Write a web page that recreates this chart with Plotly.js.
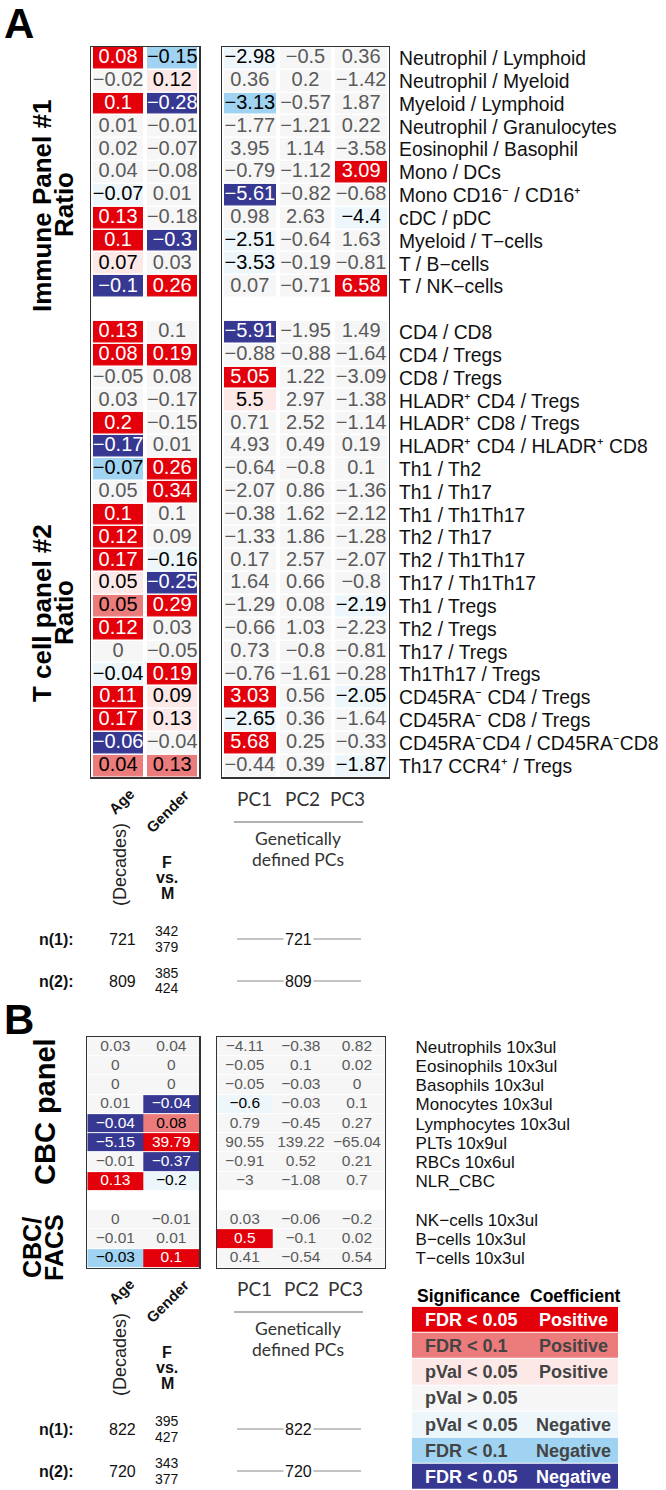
<!DOCTYPE html>
<html><head><meta charset="utf-8">
<script src="https://cdn.plot.ly/plotly-3.0.1.min.js"></script>
<style>html,body{margin:0;padding:0;background:#fff}#chart{width:666px;height:1490px}</style>
</head><body><div id="chart"></div>
<script>
// ---------------- DATA ----------------
// columns: Age, Gender, PC1, PC2, PC3
// significance codes: 3 FDR<0.05 pos, 2 FDR<0.1 pos, 1 pVal<0.05 pos, 0 ns, -1 pVal<0.05 neg, -2 FDR<0.1 neg, -3 FDR<0.05 neg
const immuneLabels = ["Neutrophil / Lymphoid","Neutrophil / Myeloid","Myeloid / Lymphoid","Neutrophil / Granulocytes","Eosinophil / Basophil","Mono / DCs","Mono CD16⁻ / CD16⁺","cDC / pDC","Myeloid / T−cells","T / B−cells","T / NK−cells"];
const immuneValues = [
  [0.08,-0.15,-2.98,-0.5,0.36],
  [-0.02,0.12,0.36,0.2,-1.42],
  [0.1,-0.28,-3.13,-0.57,1.87],
  [0.01,-0.01,-1.77,-1.21,0.22],
  [0.02,-0.07,3.95,1.14,-3.58],
  [0.04,-0.08,-0.79,-1.12,3.09],
  [-0.07,0.01,-5.61,-0.82,-0.68],
  [0.13,-0.18,0.98,2.63,-4.4],
  [0.1,-0.3,-2.51,-0.64,1.63],
  [0.07,0.03,-3.53,-0.19,-0.81],
  [-0.1,0.26,0.07,-0.71,6.58]
];
const immuneSig = [
  [3,-2,-1,0,0],[0,1,0,0,0],[3,-3,-2,0,0],[0,0,0,0,0],[0,0,0,0,0],[0,0,0,0,3],
  [-1,0,-3,0,0],[3,0,0,0,-1],[3,-3,-1,0,0],[1,0,-1,0,0],[-3,3,0,0,3]
];
const tcellLabels = ["CD4 / CD8","CD4 / Tregs","CD8 / Tregs","HLADR⁺ CD4 / Tregs","HLADR⁺ CD8 / Tregs","HLADR⁺ CD4 / HLADR⁺ CD8","Th1 / Th2","Th1 / Th17","Th1 / Th1Th17","Th2 / Th17","Th2 / Th1Th17","Th17 / Th1Th17","Th1 / Tregs","Th2 / Tregs","Th17 / Tregs","Th1Th17 / Tregs","CD45RA⁻ CD4 / Tregs","CD45RA⁻ CD8 / Tregs","CD45RA⁻CD4 / CD45RA⁻CD8","Th17 CCR4⁺ / Tregs"];
const tcellValues = [
  [0.13,0.1,-5.91,-1.95,1.49],
  [0.08,0.19,-0.88,-0.88,-1.64],
  [-0.05,0.08,5.05,1.22,-3.09],
  [0.03,-0.17,5.5,2.97,-1.38],
  [0.2,-0.15,0.71,2.52,-1.14],
  [-0.17,0.01,4.93,0.49,0.19],
  [-0.07,0.26,-0.64,-0.8,0.1],
  [0.05,0.34,-2.07,0.86,-1.36],
  [0.1,0.1,-0.38,1.62,-2.12],
  [0.12,0.09,-1.33,1.86,-1.28],
  [0.17,-0.16,0.17,2.57,-2.07],
  [0.05,-0.25,1.64,0.66,-0.8],
  [0.05,0.29,-1.29,0.08,-2.19],
  [0.12,0.03,-0.66,1.03,-2.23],
  [0,-0.05,0.73,-0.8,-0.81],
  [-0.04,0.19,-0.76,-1.61,-0.28],
  [0.11,0.09,3.03,0.56,-2.05],
  [0.17,0.13,-2.65,0.36,-1.64],
  [-0.06,-0.04,5.68,0.25,-0.33],
  [0.04,0.13,-0.44,0.39,-1.87]
];
const tcellSig = [
  [3,0,-3,0,0],[3,3,0,0,0],[0,0,3,0,0],[0,0,1,0,0],[3,0,0,0,0],[-3,0,0,0,0],
  [-2,3,0,0,0],[0,3,0,0,0],[3,0,0,0,0],[3,0,0,0,0],[3,-1,0,0,0],[1,-3,0,0,0],
  [2,3,0,0,-1],[3,0,0,0,0],[0,0,0,0,0],[-1,3,0,0,0],[3,1,3,0,-1],[3,1,-1,0,0],
  [-3,0,3,0,0],[2,2,0,0,-1]
];
const cbcLabels = ["Neutrophils 10x3ul","Eosinophils 10x3ul","Basophils 10x3ul","Monocytes 10x3ul","Lymphocytes 10x3ul","PLTs 10x9ul","RBCs 10x6ul","NLR_CBC"];
const cbcValues = [
  [0.03,0.04,-4.11,-0.38,0.82],
  [0,0,-0.05,0.1,0.02],
  [0,0,-0.05,-0.03,0],
  [0.01,-0.04,-0.6,-0.03,0.1],
  [-0.04,0.08,0.79,-0.45,0.27],
  [-5.15,39.79,90.55,139.22,-65.04],
  [-0.01,-0.37,-0.91,0.52,0.21],
  [0.13,-0.2,-3,-1.08,0.7]
];
const cbcSig = [
  [0,0,0,0,0],[0,0,0,0,0],[0,0,0,0,0],[0,-3,-1,0,0],
  [-3,2,0,0,0],[-3,3,0,0,0],[0,-3,0,0,0],[3,-1,0,0,0]
];
const facsLabels = ["NK−cells 10x3ul","B−cells 10x3ul","T−cells 10x3ul"];
const facsValues = [
  [0,-0.01,0.03,-0.06,-0.2],
  [-0.01,0.01,0.5,-0.1,0.02],
  [-0.03,0.1,0.41,-0.54,0.54]
];
const facsSig = [[0,0,0,0,0],[0,0,3,0,0],[-2,3,0,0,0]];

const pcLabels = ["PC1","PC2","PC3"];
const nRowLabels = ["n(1):","n(2):"];
const nAgeA = [721, 809], nFemaleA = [342, 385], nMaleA = [379, 424], nPcA = [721, 809];
const nAgeB = [822, 720], nFemaleB = [395, 343], nMaleB = [427, 377], nPcB = [822, 720];

const legendCodes = [3,2,1,0,-1,-2,-3];
const legendSig = ["FDR < 0.05","FDR < 0.1","pVal < 0.05","pVal > 0.05","pVal < 0.05","FDR < 0.1","FDR < 0.05"];
const legendCoef = ["Positive","Positive","Positive","","Negative","Negative","Negative"];

// ---------------- HELPERS ----------------
const W = 666, H = 1490;
const px = x => x / W, py = y => 1 - y / H;
const FONT = "Liberation Sans, Arial, sans-serif";
const FONT2 = "Lato, Open Sans, sans-serif";
const palette = ["#363892","#9fd3f1","#ecf6fb","#f6f6f6","#fde8e8","#ec7b7c","#e3000b"];
const colorscale = palette.map((c, i) => [i / 6, c]);
const fmt = v => (v < 0 ? "−" : "") + String(Math.abs(v));
const txtColor = s => Math.abs(s) === 3 ? "#ffffff" : (s === 0 ? "#5a5a5a" : "#000000");

function buildPanel(groups, axL, axR, fontSize, xgap, ygap) {
  const rows = [];
  groups.forEach((g, gi) => {
    if (gi > 0) rows.push(null);
    g.labels.forEach((l, i) => rows.push({label: l, v: g.values[i], s: g.sig[i]}));
  });
  const yIdx = rows.map((_, i) => i);
  const zL = rows.map(r => r ? [r.s[0], r.s[1]] : [null, null]);
  const zR = rows.map(r => r ? r.s.slice(2) : [null, null, null]);
  const traces = [];
  const common = {type: "heatmap", colorscale, zmin: -3, zmax: 3, showscale: false, hoverinfo: "skip", xgap, ygap};
  traces.push(Object.assign({}, common, {x: [0, 1], y: yIdx, z: zL, xaxis: axL[0], yaxis: axL[1]}));
  traces.push(Object.assign({}, common, {x: [0, 1, 2], y: yIdx, z: zR, xaxis: axR[0], yaxis: axR[1]}));
  const tl = {x: [], y: [], text: [], c: []}, tr = {x: [], y: [], text: [], c: []};
  const tickvals = [], ticktext = [];
  rows.forEach((r, i) => {
    if (!r) return;
    tickvals.push(i); ticktext.push(r.label);
    r.v.forEach((v, j) => {
      const t = j < 2 ? tl : tr;
      t.x.push(j < 2 ? j : j - 2); t.y.push(i); t.text.push(fmt(v)); t.c.push(txtColor(r.s[j]));
    });
  });
  [[tl, axL], [tr, axR]].forEach(([t, ax]) => {
    traces.push({type: "scatter", mode: "text", x: t.x, y: t.y, text: t.text,
      textfont: {family: FONT, size: fontSize, color: t.c}, textposition: "middle center",
      xaxis: ax[0], yaxis: ax[1], hoverinfo: "skip", cliponaxis: false, showlegend: false});
  });
  return {traces, tickvals, ticktext, n: rows.length};
}

const A = buildPanel([{labels: immuneLabels, values: immuneValues, sig: immuneSig},
                      {labels: tcellLabels, values: tcellValues, sig: tcellSig}], ["x", "y"], ["x2", "y2"], 20, 4, 1.5);
const B = buildPanel([{labels: cbcLabels, values: cbcValues, sig: cbcSig},
                      {labels: facsLabels, values: facsValues, sig: facsSig}], ["x3", "y3"], ["x4", "y4"], 15.5, 0, 1);

const legendTrace = {type: "heatmap", x: [0], y: legendCodes.map((_, i) => i), z: legendCodes.map(c => [c]),
  colorscale, zmin: -3, zmax: 3, showscale: false, hoverinfo: "skip", ygap: 1, xaxis: "x5", yaxis: "y5"};

const traces = [...A.traces, ...B.traces, legendTrace];

// ---------------- AXES ----------------
const boxAxis = (domain, range, anchor) => ({domain, range, anchor, showgrid: false, zeroline: false,
  showticklabels: false, ticks: "", showline: true, mirror: true, linecolor: "#333", linewidth: 1.2, fixedrange: true});
const yA = [py(777.4), py(46.9)], yB = [py(1267.9), py(1037.1)];
const layout = {
  width: W, height: H, margin: {l: 0, r: 0, t: 0, b: 0},
  paper_bgcolor: "#fff", plot_bgcolor: "rgba(0,0,0,0)", showlegend: false,
  font: {family: FONT, color: "#000"},
  xaxis: boxAxis([px(91), px(199.3)], [-0.5, 1.5], "y"),
  yaxis: boxAxis(yA, [A.n - 0.5, -0.5], "x"),
  xaxis2: boxAxis([px(222), px(389)], [-0.5, 2.5], "y2"),
  yaxis2: Object.assign(boxAxis(yA, [A.n - 0.5, -0.5], "x2"), {side: "right", showticklabels: true,
    tickmode: "array", tickvals: A.tickvals, ticktext: A.ticktext, ticklabelstandoff: 5,
    tickfont: {family: FONT, size: 19.3, color: "#111"}}),
  xaxis3: boxAxis([px(87.3), px(199.3)], [-0.5, 1.5], "y3"),
  yaxis3: boxAxis(yB, [B.n - 0.5, -0.5], "x3"),
  xaxis4: boxAxis([px(216.7), px(385)], [-0.5, 2.5], "y4"),
  yaxis4: Object.assign(boxAxis(yB, [B.n - 0.5, -0.5], "x4"), {side: "right", showticklabels: true,
    tickmode: "array", tickvals: B.tickvals, ticktext: B.ticktext, ticklabelstandoff: 26,
    tickfont: {family: FONT, size: 17, color: "#111"}}),
  xaxis5: {domain: [px(412), px(618)], range: [-0.5, 0.5], anchor: "y5", visible: false, fixedrange: true},
  yaxis5: {domain: [0, py(1306.7)], range: [6.5, -0.5], anchor: "x5", visible: false, fixedrange: true},
  annotations: [], shapes: []
};

// ---------------- ANNOTATIONS ----------------
const ann = (text, x, y, o = {}) => layout.annotations.push(Object.assign({
  text, x: px(x), y: py(y), xref: "paper", yref: "paper", showarrow: false,
  xanchor: "center", yanchor: "middle", font: {family: FONT, size: 16, color: "#111"}}, o));
const bold = t => "<b>" + t + "</b>";

ann(bold("A"), 2, 23, {xanchor: "left", font: {family: FONT, size: 42, color: "#000"}});
ann(bold("B"), 2, 1019, {xanchor: "left", font: {family: FONT, size: 42, color: "#000"}});
ann(bold("Immune Panel #1"), 42, 206, {textangle: -90, font: {family: FONT, size: 26, color: "#000"}});
ann(bold("Ratio"), 64, 205, {textangle: -90, font: {family: FONT, size: 26, color: "#000"}});
ann(bold("T cell panel #2"), 42, 613, {textangle: -90, font: {family: FONT, size: 26, color: "#000"}});
ann(bold("Ratio"), 64, 613, {textangle: -90, font: {family: FONT, size: 26, color: "#000"}});
ann(bold("CBC panel"), 45, 1112, {textangle: -90, font: {family: FONT, size: 29, color: "#000"}});
ann(bold("CBC/"), 32, 1248, {textangle: -90, font: {family: FONT, size: 25, color: "#000"}});
ann(bold("FACS"), 54, 1248, {textangle: -90, font: {family: FONT, size: 25, color: "#000"}});

function footer(y0, pcX, nAge, nF, nM, nPc) {
  // y0: y of column-label row (Age)
  ann(bold("Age"), 121, y0 + 3, {textangle: -45, font: {family: FONT, size: 15, color: "#111"}});
  ann(bold("Gender"), 167, y0 + 13, {textangle: -45, font: {family: FONT, size: 15, color: "#111"}});
  ann("(Decades)", 120, y0 + 67, {textangle: -90, font: {family: FONT, size: 18, color: "#222"}});
  ann(bold("F"), 167, y0 + 64, {height: 14, font: {family: FONT, size: 16, color: "#111"}});
  ann(bold("vs."), 167, y0 + 79, {height: 14, font: {family: FONT, size: 16, color: "#111"}});
  ann(bold("M"), 167, y0 + 95, {height: 14, font: {family: FONT, size: 16, color: "#111"}});
  pcLabels.forEach((l, i) => ann(l, pcX[i], y0, {font: {family: FONT2, size: 19, color: "#333"}}));
  layout.shapes.push({type: "line", xref: "paper", yref: "paper", x0: px(234), x1: px(363), y0: py(y0 + 24), y1: py(y0 + 24),
    line: {color: "#999", width: 1.5}});
  ann("Genetically", 298, y0 + 40, {height: 20, font: {family: FONT2, size: 17.5, color: "#333"}});
  ann("defined PCs", 298, y0 + 61, {height: 20, font: {family: FONT2, size: 17.5, color: "#333"}});
  const nY = [y0 + 141, y0 + 183];
  nY.forEach((yy, k) => {
    ann(bold(nRowLabels[k]), 56, yy, {font: {family: FONT, size: 16, color: "#111"}});
    ann(String(nAge[k]), 122, yy, {font: {family: FONT, size: 16, color: "#111"}});
    ann(String(nF[k]), 167, yy - 9, {height: 15, font: {family: FONT, size: 14, color: "#111"}});
    ann(String(nM[k]), 167, yy + 7, {height: 15, font: {family: FONT, size: 14, color: "#111"}});
    layout.shapes.push({type: "line", xref: "paper", yref: "paper", x0: px(237), x1: px(361), y0: py(yy), y1: py(yy),
      line: {color: "#888", width: 1}});
    ann(String(nPc[k]), 298, yy, {bgcolor: "#fff", borderpad: 1, font: {family: FONT, size: 16, color: "#111"}});
  });
}
footer(798, [255, 302, 347], nAgeA, nFemaleA, nMaleA, nPcA);
footer(1288, [254, 301, 346], nAgeB, nFemaleB, nMaleB, nPcB);

// legend text
ann(bold("Significance"), 415, 1296, {xanchor: "left", font: {family: FONT, size: 17.5, color: "#000"}});
ann(bold("Coefficient"), 528, 1296, {xanchor: "left", font: {family: FONT, size: 17.5, color: "#000"}});
legendCodes.forEach((c, i) => {
  const col = Math.abs(c) === 3 ? "#ffffff" : "#444";
  layout.annotations.push({text: bold(legendSig[i]), xref: "paper", yref: "y5", x: px(423), y: i,
    xanchor: "left", yanchor: "middle", showarrow: false, font: {family: FONT, size: 18, color: col}});
  if (legendCoef[i]) layout.annotations.push({text: bold(legendCoef[i]), xref: "paper", yref: "y5", x: px(573), y: i,
    xanchor: "center", yanchor: "middle", showarrow: false, font: {family: FONT, size: 18, color: col}});
});

Plotly.newPlot("chart", traces, layout, {staticPlot: true, displayModeBar: false});
</script>
</body></html>
